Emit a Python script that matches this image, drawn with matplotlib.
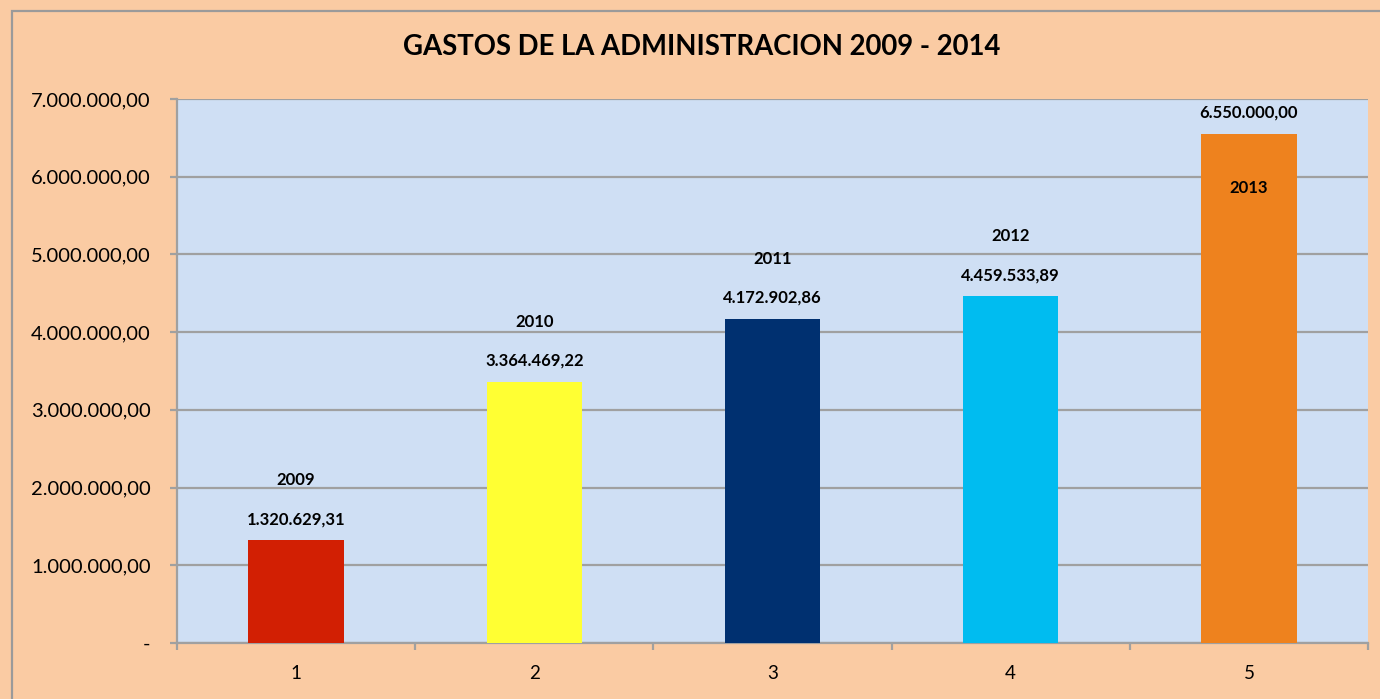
import numpy as np
import matplotlib.pyplot as plt
from matplotlib.patches import Rectangle
from matplotlib.ticker import FuncFormatter

# data
categories = [1, 2, 3, 4, 5]
years = ['2009', '2010', '2011', '2012', '2013']
gastos = [1320629.31, 3364469.22, 4172902.86, 4459533.89, 6550000.00]
colors = ['#D21F03', '#FFFF33', '#003070', '#00BCF0', '#EE821E']

def fmt_num(v, pos=None):
    if v == 0:
        return '-'
    s = '{:,.2f}'.format(v)
    return s.replace(',', 'X').replace('.', ',').replace('X', '.')

plt.rcParams['font.family'] = ['Lato', 'DejaVu Sans']

W, H = 1380, 699
fig = plt.figure(figsize=(13.8, 6.99), dpi=100)
bg = '#FACBA3'
fig.patch.set_facecolor(bg)
fig.patches.append(Rectangle((12 / W, -0.1), 1.2, 1 - 11 / H + 0.1, transform=fig.transFigure,
                             fill=False, edgecolor='#9A9A9A', linewidth=1.6))

ax = fig.add_axes([177 / W, 1 - 643 / H, (1368 - 177) / W, (643 - 99) / H])
ax.set_facecolor('#CFDFF4')

x = np.arange(len(categories))
ax.bar(x, gastos, width=0.40, color=colors, zorder=3)

ax.set_xlim(-0.5, len(categories) - 0.5)
ax.set_ylim(0, 7000000)
ax.set_yticks(np.arange(0, 7000001, 1000000))
ax.yaxis.set_major_formatter(FuncFormatter(fmt_num))
ax.grid(axis='y', color='#A0A0A0', linewidth=1.6, zorder=1)

ax.set_xticks(x)
ax.set_xticklabels([str(c) for c in categories])
ax.set_xticks(np.arange(-0.5, len(categories)), minor=True)
ax.tick_params(axis='x', which='major', length=0, pad=16, labelsize=13.5)
ax.tick_params(axis='x', which='minor', length=5, width=1.6, color='#A0A0A0')
ax.tick_params(axis='y', length=5, width=1.6, color='#A0A0A0', labelsize=14.5, pad=14)

for s in ['top', 'right']:
    ax.spines[s].set_visible(False)
for s in ['left', 'bottom']:
    ax.spines[s].set_color('#A0A0A0')
    ax.spines[s].set_linewidth(1.6)

for i, (v, yr) in enumerate(zip(gastos, years)):
    ax.annotate(fmt_num(v), (i, v), xytext=(0, 13), textcoords='offset pixels',
                ha='center', va='bottom', fontsize=12, fontweight='bold', zorder=5)
    off = 60 if i < len(gastos) - 1 else -54
    ax.annotate(yr, (i, v), xytext=(0, off), textcoords='offset pixels',
                ha='center', va='center', fontsize=12, fontweight='bold', zorder=5)

fig.text(702 / W, 1 - 47 / H, 'GASTOS DE LA ADMINISTRACION 2009 - 2014',
         ha='center', va='center', fontsize=19.8, fontweight='bold')

fig.savefig('out.png', dpi=100, facecolor=bg)
